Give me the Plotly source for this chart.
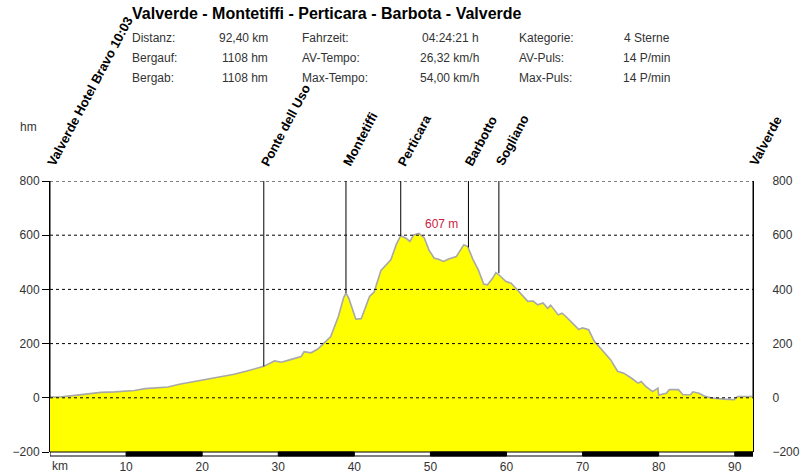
import plotly.graph_objects as go

# ---------------- data ----------------
km = [0.0, 1.5, 3.0, 5.0, 6.7, 8.5, 11.1, 12.5, 13.3, 15.5, 17.0, 19.9, 22.0, 24.2, 26.0,
      28.1, 29.5, 30.4, 31.5, 33.0, 33.4, 34.3, 35.2, 36.0, 36.9, 37.9, 38.6, 38.9, 39.3,
      40.2, 40.9, 42.0, 42.6, 43.5, 44.2, 44.8, 45.5, 46.1, 46.8, 47.3, 47.8, 48.5, 49.2,
      49.8, 50.5, 51.0, 51.7, 52.4, 53.4, 54.0, 54.4, 54.9, 55.6, 56.3, 57.0, 57.5, 58.2,
      58.6, 59.0, 59.9, 60.6, 61.2, 62.2, 62.8, 63.5, 64.1, 64.8, 65.4, 65.8, 66.8, 67.3,
      67.8, 68.9, 69.5, 70.0, 70.8, 71.5, 72.8, 73.7, 74.6, 75.4, 76.4, 77.3, 77.7, 78.3,
      79.2, 79.9, 80.0, 81.0, 81.4, 82.6, 83.2, 84.2, 84.5, 85.3, 86.0, 86.9, 88.6, 89.9,
      90.4, 92.4]
elev = [3, 4, 8, 15, 20, 22, 27, 34, 36, 40, 50, 64, 75, 87, 100,
        116, 136, 131, 140, 152, 170, 166, 180, 200, 226, 300, 370, 387, 365,
        290, 292, 374, 390, 470, 490, 509, 565, 598, 589, 577, 601, 607, 590,
        546, 515, 512, 503, 512, 521, 550, 565, 558, 510, 472, 420, 417, 442,
        462, 454, 430, 423, 405, 374, 356, 357, 343, 350, 330, 342, 306, 312,
        300, 269, 252, 258, 251, 210, 170, 140, 98, 91, 73, 54, 60, 42,
        23, 36, 10, 17, 30, 30, 11, 11, 22, 17, 7, -1, -5, -7,
        5, 5]

wp_names = ["Valverde Hotel Bravo 10:03", "Ponte dell Uso", "Montetiffi", "Perticara",
            "Barbotto", "Sogliano", "Valverde"]
wp_km = [0.0, 28.1, 38.9, 46.1, 55.0, 59.0, 92.4]
wp_elev = [3, 116, 387, 598, 555, 460, 5]

y_ticks = [-200, 0, 200, 400, 600, 800]
grid_vals = [0, 200, 400, 600, 800]
x_ticks = [10, 20, 30, 40, 50, 60, 70, 80, 90]
stripe_black = [(10, 20), (30, 40), (50, 60), (70, 80), (90, 92.4)]

title = "Valverde - Montetiffi - Perticara - Barbota - Valverde"
stats_labels = [["Distanz:", "Bergauf:", "Bergab:"],
                ["Fahrzeit:", "AV-Tempo:", "Max-Tempo:"],
                ["Kategorie:", "AV-Puls:", "Max-Puls:"]]
stats_values = [["92,40 km", "1108 hm", "1108 hm"],
                ["04:24:21 h", "26,32 km/h", "54,00 km/h"],
                ["4 Sterne", "14 P/min", "14 P/min"]]
peak_km, peak_elev, peak_text = 48.5, 607, "607 m"

XMAX = 92.4
YMIN, YMAX = -200, 800

# ---------------- layout geometry ----------------
W, H = 800, 476
L, R, T, B = 50, 47, 181, 24
PW, PH = W - L - R, H - T - B
FONT = "Liberation Sans, Arial, sans-serif"


def px(xp):
    return (xp - L) / PW


def py(yp):
    return (H - B - yp) / PH


fig = go.Figure()
fig.add_trace(go.Scatter(x=[0, XMAX], y=[YMIN, YMIN], mode="lines",
                         line=dict(width=0), hoverinfo="skip", showlegend=False))
fig.add_trace(go.Scatter(x=km, y=elev, mode="lines", fill="tonexty",
                         fillcolor="#FFFF00", line=dict(color="#A8A8A8", width=1.6),
                         showlegend=False))
fig.add_trace(go.Scatter(x=[0], y=[0], yaxis="y2", mode="markers",
                         marker=dict(opacity=0), hoverinfo="skip", showlegend=False))

shapes = []
for g in grid_vals:
    shapes.append(dict(type="line", xref="x", yref="y", x0=0, x1=XMAX, y0=g, y1=g,
                       line=dict(color="black", width=1, dash="3px,3px"), layer="above"))
for k, e in zip(wp_km, wp_elev):
    shapes.append(dict(type="line", xref="x", yref="y", x0=k, x1=k, y0=e, y1=YMAX,
                       line=dict(color="black", width=1), layer="above"))
sh = 4 / PH
shapes.append(dict(type="rect", xref="x", yref="paper", x0=0, x1=XMAX, y0=-sh, y1=0,
                   fillcolor="white", line=dict(color="black", width=1), layer="above"))
for a, b in stripe_black:
    shapes.append(dict(type="rect", xref="x", yref="paper", x0=a, x1=b, y0=-sh, y1=0,
                       fillcolor="black", line=dict(color="black", width=1), layer="above"))

ann = []
ann.append(dict(text="<b>" + title + "</b>", x=px(130), y=py(14), xref="paper", yref="paper",
                xanchor="left", yanchor="middle", showarrow=False,
                font=dict(family=FONT, size=16, color="black")))
col_label_x = [130, 300, 517]
col_value_x = [270, 481, 672]
row_y = [38, 58, 78]
for c in range(3):
    for r in range(3):
        ann.append(dict(text=stats_labels[c][r], x=px(col_label_x[c]), y=py(row_y[r]),
                        xref="paper", yref="paper", xanchor="left", yanchor="middle",
                        showarrow=False, font=dict(family=FONT, size=12, color="#333")))
        ann.append(dict(text=stats_values[c][r], x=px(col_value_x[c]), y=py(row_y[r]),
                        xref="paper", yref="paper", xanchor="right", yanchor="middle",
                        showarrow=False, font=dict(family=FONT, size=12, color="#333")))
ann.append(dict(text="hm", x=px(18), y=py(127), xref="paper", yref="paper",
                xanchor="left", yanchor="middle", showarrow=False,
                font=dict(family=FONT, size=12, color="#333")))
ann.append(dict(text="km", x=px(50), y=py(466), xref="paper", yref="paper",
                xanchor="left", yanchor="middle", showarrow=False,
                font=dict(family=FONT, size=12, color="#333")))
for name, k in zip(wp_names, wp_km):
    ann.append(dict(text="<b>" + name + "</b>", x=k, y=1, xref="x", yref="paper",
                    xanchor="left", yanchor="bottom", textangle=-62, showarrow=False,
                    xshift=-9, yshift=10, font=dict(family=FONT, size=13, color="black")))
ann.append(dict(text=peak_text, x=peak_km, y=peak_elev, xref="x", yref="y",
                xanchor="left", yanchor="bottom", showarrow=False, xshift=4, yshift=0,
                font=dict(family=FONT, size=12, color="#CC2244")))

fig.update_layout(
    width=W, height=H, margin=dict(l=L, r=R, t=T, b=B, pad=0, autoexpand=False),
    paper_bgcolor="white", plot_bgcolor="white",
    xaxis=dict(range=[0, XMAX], showgrid=False, zeroline=False, showline=False,
               tickvals=x_ticks, ticks="", ticklabelstandoff=6, automargin=False,
               tickfont=dict(family=FONT, size=12, color="#333"), fixedrange=True),
    yaxis=dict(range=[YMIN, YMAX], showgrid=False, zeroline=False, showline=True,
               linecolor="black", linewidth=1, tickvals=y_ticks, ticks="outside",
               ticklen=7, tickcolor="black", layer="above traces", automargin=False,
               tickfont=dict(family=FONT, size=12, color="#333")),
    yaxis2=dict(range=[YMIN, YMAX], overlaying="y", side="right", showgrid=False,
                zeroline=False, showline=True, linecolor="black", linewidth=1,
                tickvals=y_ticks, ticks="", ticklabelstandoff=16, layer="above traces",
                automargin=False, tickfont=dict(family=FONT, size=12, color="#333")),
    shapes=shapes, annotations=ann, showlegend=False,
)

fig.write_html("out.html")
